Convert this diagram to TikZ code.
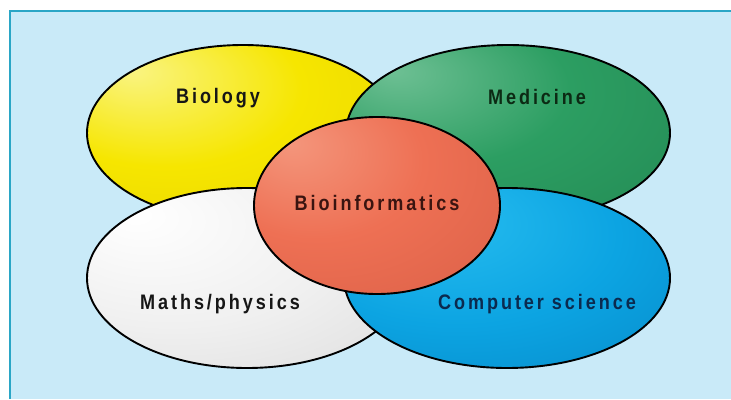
\documentclass[tikz,border=0pt]{standalone}
\usepackage{fontspec}
\newfontfamily\labfont[FakeStretch=0.86,LetterSpace=14]{Liberation Sans}
\usetikzlibrary{shapes.geometric}
\definecolor{panelbg}{HTML}{C9EAF8}
\definecolor{panelline}{HTML}{2AA6C6}
\definecolor{txtdark}{HTML}{161616}
\definecolor{txtblue}{HTML}{0B2A4E}
\definecolor{txtgreen}{HTML}{0C2A14}
\definecolor{txtred}{HTML}{3A1410}
\pgfdeclareradialshading{shYellow}{\pgfpoint{-18bp}{18bp}}{color(0bp)=(rgb,255:red,250;green,244;blue,130); color(22bp)=(rgb,255:red,246;green,230;blue,0); color(72bp)=(rgb,255:red,218;green,194;blue,0)}
\pgfdeclareradialshading{shGreen}{\pgfpoint{-18bp}{18bp}}{color(0bp)=(rgb,255:red,110;green,192;blue,148); color(22bp)=(rgb,255:red,44;green,158;blue,98); color(72bp)=(rgb,255:red,26;green,118;blue,70)}
\pgfdeclareradialshading{shWhite}{\pgfpoint{-18bp}{18bp}}{color(0bp)=(rgb,255:red,255;green,255;blue,255); color(25bp)=(rgb,255:red,240;green,240;blue,240); color(72bp)=(rgb,255:red,200;green,200;blue,200)}
\pgfdeclareradialshading{shBlue}{\pgfpoint{-12bp}{18bp}}{color(0bp)=(rgb,255:red,40;green,190;blue,240); color(25bp)=(rgb,255:red,12;green,164;blue,226); color(72bp)=(rgb,255:red,0;green,110;blue,174)}
\pgfdeclareradialshading{shRed}{\pgfpoint{-18bp}{18bp}}{color(0bp)=(rgb,255:red,244;green,150;blue,124); color(22bp)=(rgb,255:red,238;green,112;blue,84); color(72bp)=(rgb,255:red,200;green,80;blue,58)}
\tikzset{
  blob/.style={ellipse, draw=black, line width=1.9pt, inner sep=0pt, outer sep=0pt},
  lab/.style={font=\labfont\bfseries\fontsize{21}{21}\selectfont, inner sep=0pt}
}
\begin{document}
\begin{tikzpicture}[x=1pt,y=-1pt]
\useasboundingbox (0,0) rectangle (731,399);
\fill[white] (0,0) rectangle (731,399);
\fill[panelbg] (10,11) rectangle (731,399);
\draw[panelline, line width=2.2pt] (731,11) -- (10,11) -- (10,399);
% ellipses
\node[blob, shading=shYellow, minimum width=312pt, minimum height=176pt] (bio) at (243,133) {};
\node[blob, shading=shGreen, minimum width=324pt, minimum height=176pt] (med) at (508,133) {};
\node[blob, shading=shWhite, minimum width=320pt, minimum height=180pt] (math) at (247,278) {};
\node[blob, shading=shBlue, minimum width=326pt, minimum height=180pt] (cs) at (507,278) {};
\node[blob, shading=shRed, minimum width=246pt, minimum height=177pt] (bioinf) at (377,205.5) {};
% labels
\node[lab, text=txtdark] (tbio) at (218,98) {Biology};
\node[lab, text=txtgreen] (tmed) at (537,97) {Medicine};
\node[lab, text=txtdark] (tmath) at (220,304) {Maths/physics};
\node[lab, text=txtblue] (tcs) at (537,304) {Computer science};
\node[lab, text=txtred] (tbioinf) at (377,203) {Bioinformatics};
\end{tikzpicture}
\end{document}
